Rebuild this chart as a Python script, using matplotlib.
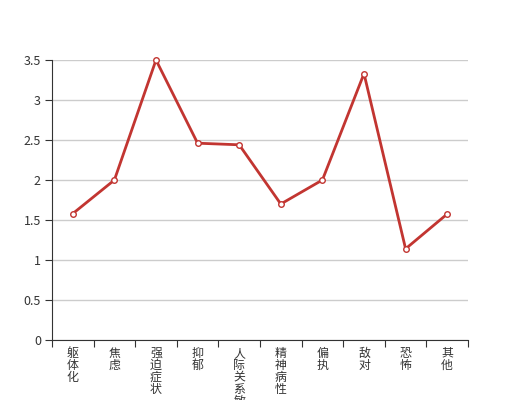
import numpy as np
import matplotlib
matplotlib.use("Agg")
import matplotlib.pyplot as plt

plt.rcParams['font.family'] = ['Noto Sans CJK SC', 'DejaVu Sans']

categories = ['躯体化', '焦虑', '强迫症状', '抑郁', '人际关系敏感',
              '精神病性', '偏执', '敌对', '恐怖', '其他']
scores = [1.58, 2.0, 3.5, 2.46, 2.44, 1.70, 2.0, 3.33, 1.14, 1.575]
yticks = [0, 0.5, 1, 1.5, 2, 2.5, 3, 3.5]
ytick_labels = ['0', '0.5', '1', '1.5', '2', '2.5', '3', '3.5']

fig = plt.figure(figsize=(5.2, 4.0), dpi=100)
ax = fig.add_axes([0.1, 0.15, 0.8, 0.70])

x = np.arange(len(categories))
ax.plot(x, scores, color='#c23531', lw=2, marker='o', ms=4,
        mfc='white', mec='#c23531', mew=1, zorder=3, clip_on=False)

ax.set_xlim(-0.5, len(categories) - 0.5)
ax.set_ylim(0, 3.5)
ax.set_yticks(yticks)
ax.set_yticklabels(ytick_labels, fontsize=9, color='#333333')
ax.grid(axis='y', color='#cccccc', lw=1)
ax.set_axisbelow(True)

# boundary ticks between categories, labels on the centres
ax.set_xticks(np.arange(-0.5, len(categories), 1.0))
ax.set_xticklabels([])
ax.set_xticks(x, minor=True)
ax.set_xticklabels(['\n'.join(c) for c in categories], minor=True,
                   fontsize=8.6, color='#333333', linespacing=0.9, va='top')
ax.tick_params(axis='x', which='minor', length=0, pad=5)
ax.tick_params(axis='x', which='major', length=5, color='#333333')
ax.tick_params(axis='y', length=5, color='#333333', pad=3)

for s in ['top', 'right']:
    ax.spines[s].set_visible(False)
for s in ['left', 'bottom']:
    ax.spines[s].set_color('#333333')

fig.savefig('out.png', dpi=100)
